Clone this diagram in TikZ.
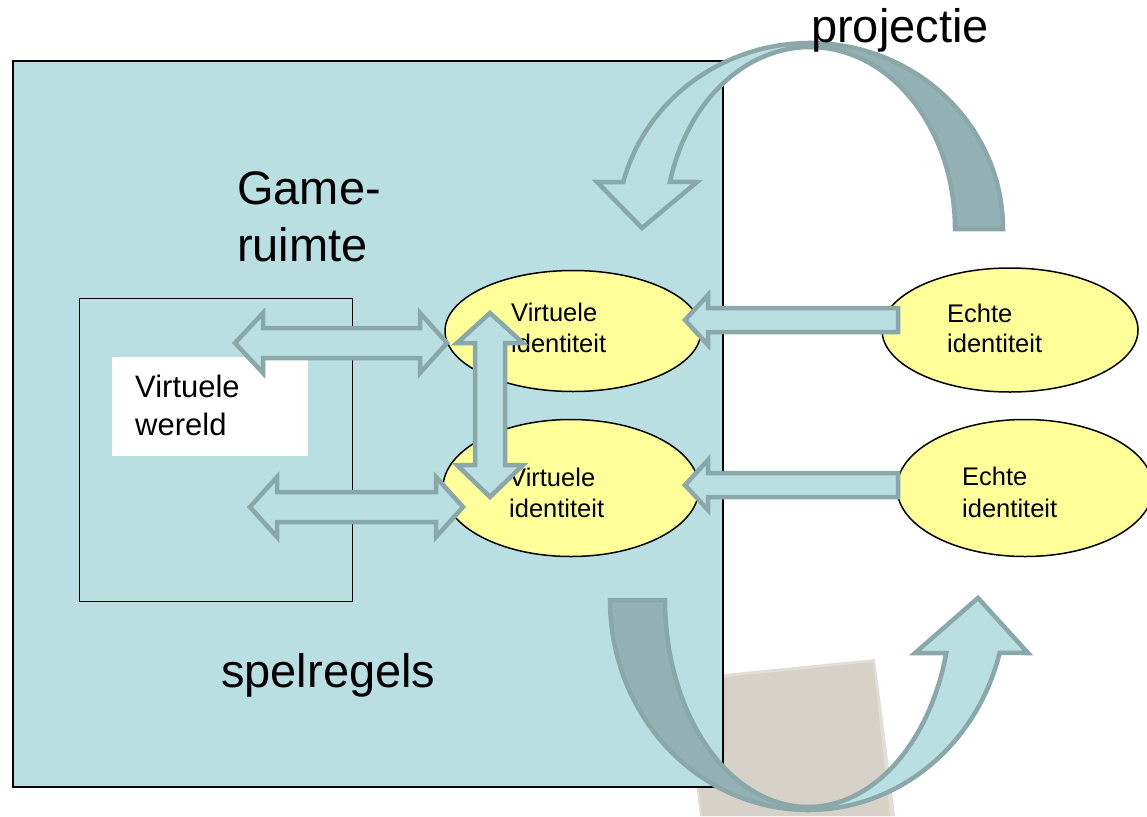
\documentclass[tikz,border=0pt]{standalone}
\usepackage{fontspec}
\setmainfont{Liberation Sans}
\usetikzlibrary{shapes.geometric}

\definecolor{gamefill}{RGB}{185,223,226}
\definecolor{arrowline}{RGB}{138,168,170}
\definecolor{arrowdark}{RGB}{148,178,181}
\definecolor{idfill}{RGB}{255,255,153}
\definecolor{paper}{RGB}{215,210,201}
\definecolor{paperedge}{RGB}{226,222,215}

\tikzset{
  blockarrow/.style={fill=gamefill, draw=arrowline, line width=4.5pt, line join=miter},
  darkband/.style={fill=arrowdark, draw=arrowline, line width=4.5pt, line join=miter},
  identity/.style={ellipse, draw=black, line width=1.5pt, fill=idfill, inner sep=0pt},
  txt/.style={anchor=base west, inner sep=0pt},
  bigtxt/.style={txt, font=\fontsize{47}{57}\selectfont},
  idtxt/.style={txt, font=\fontsize{25.5}{31}\selectfont},
}

\begin{document}
\begin{tikzpicture}[x=1pt, y=-1pt]
  \useasboundingbox (0,0) rectangle (1147,816);

  % paper sheet behind the game space, with a lighter rim
  \fill[paperedge] (684,678) -- (875,659) -- (895,816) -- (700,816) -- cycle;
  \fill[paper] (686,681) -- (873,662) -- (890,816) -- (702,816) -- cycle;

  % game space
  \node[draw=black, line width=2pt, fill=gamefill, minimum width=710pt, minimum height=726pt,
        inner sep=0pt, anchor=north west] (space) at (12,60) {};
  \node[draw=black, line width=1.3pt, minimum width=273pt, minimum height=303pt,
        inner sep=0pt, anchor=north west] (world) at (79,298) {};
  \node[fill=white, minimum width=196pt, minimum height=99pt, inner sep=0pt,
        anchor=north west] (worldbox) at (112,357) {};
  \node[txt, font=\fontsize{31}{36}\selectfont] (worldlbl1) at (135,397) {Virtuele};
  \node[txt, font=\fontsize{31}{36}\selectfont] (worldlbl2) at (135,435) {wereld};

  \node[bigtxt] (game1) at (237,204) {Game-};
  \node[bigtxt] (game2) at (237,261) {ruimte};
  \node[bigtxt] (rules) at (221,687) {spelregels};

  % identities
  \node[identity, minimum width=256pt, minimum height=121pt] (vi1) at (573,331) {};
  \node[identity, minimum width=256pt, minimum height=137pt] (vi2) at (571,488) {};
  \node[identity, minimum width=256pt, minimum height=124pt] (ei1) at (1010,330) {};
  \node[identity, minimum width=256pt, minimum height=137pt] (ei2) at (1025,488) {};

  \node[idtxt] (vi1a) at (511,321) {Virtuele};
  \node[idtxt] (vi1b) at (511,352) {identiteit};
  \node[idtxt] (vi2a) at (509,486) {Virtuele};
  \node[idtxt] (vi2b) at (509,517) {identiteit};
  \node[idtxt] (ei1a) at (947,322) {Echte};
  \node[idtxt] (ei1b) at (947,352) {identiteit};
  \node[idtxt] (ei2a) at (962,485) {Echte};
  \node[idtxt] (ei2b) at (962,517) {identiteit};

  % two-way arrows between the virtual world and the virtual identities
  \draw[blockarrow] (235,343) -- (263,313) -- (263,328) -- (420,328) -- (420,313) -- (447,343)
    -- (420,373) -- (420,358) -- (263,358) -- (263,373) -- cycle;
  \draw[blockarrow] (250,507) -- (277,477) -- (277,492) -- (436,492) -- (436,477) -- (463,507)
    -- (436,537) -- (436,522) -- (277,522) -- (277,537) -- cycle;
  % two-way arrow between the two virtual identities
  \draw[blockarrow] (490,313) -- (523,343) -- (505,343) -- (505,465) -- (523,465) -- (490,497)
    -- (457,465) -- (475,465) -- (475,343) -- (457,343) -- cycle;

  % real identity feeds the virtual identity
  \draw[blockarrow] (685,320) -- (708,295) -- (708,308) -- (898,308) -- (898,332) -- (708,332)
    -- (708,345) -- cycle;
  \draw[blockarrow] (685,485) -- (708,460) -- (708,473) -- (898,473) -- (898,497) -- (708,497)
    -- (708,510) -- cycle;

  % projection arrow, from the real side into the game space
  \draw[darkband] plot[domain=0:90, samples=50] ({810+193*cos(\x)},{229-186*sin(\x)})
    -- plot[domain=90:0, samples=50] ({810+145*cos(\x)},{229-182*sin(\x)}) -- cycle;
  \draw[blockarrow] plot[domain=90:165.4, samples=50] ({810+193*cos(\x)},{229-186*sin(\x)})
    -- (597,182) -- (642,228) -- (697,182)
    -- plot[domain=165:90, samples=50] ({810+145*cos(\x)},{229-182*sin(\x)}) -- cycle;

  % return arrow, from the game space back to the real side
  \draw[darkband] plot[domain=180:90, samples=50] ({808+198*cos(\x)},{600+210*sin(\x)})
    -- plot[domain=90:180, samples=50] ({808+143*cos(\x)},{600+207*sin(\x)}) -- cycle;
  \draw[blockarrow] plot[domain=90:14.6, samples=50] ({808+198*cos(\x)},{600+210*sin(\x)})
    -- (1028,653) -- (978,598) -- (915,653)
    -- plot[domain=14.84:90, samples=50] ({808+143*cos(\x)},{600+207*sin(\x)}) -- cycle;

  \node[bigtxt] (proj) at (811,42) {projectie};
\end{tikzpicture}
\end{document}
